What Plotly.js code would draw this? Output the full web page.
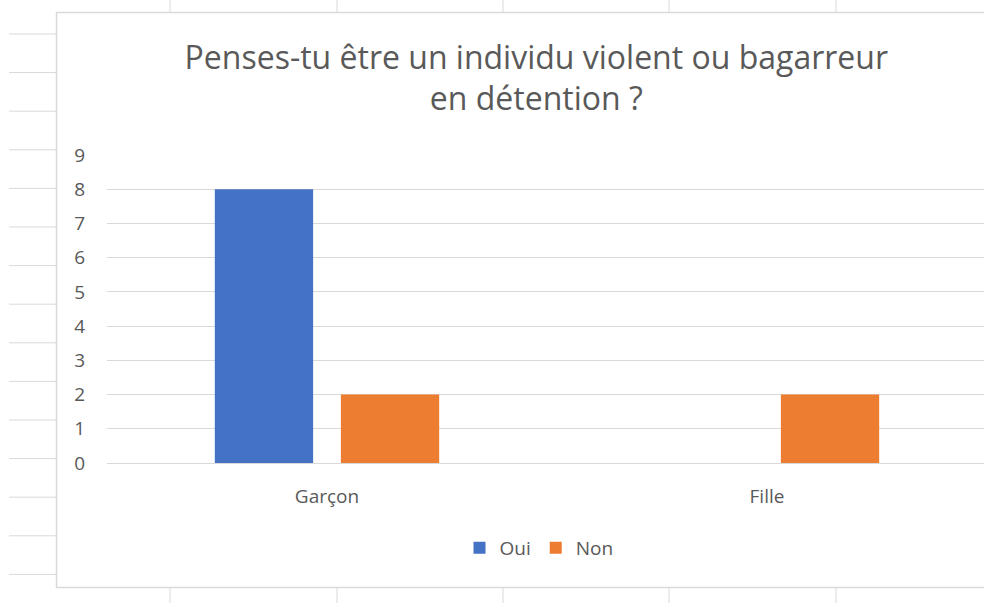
<!DOCTYPE html>
<html>
<head>
<meta charset="utf-8">
<script src="https://cdn.plot.ly/plotly-3.0.1.min.js"></script>
<style>
  html, body { margin: 0; padding: 0; background: #ffffff; overflow: hidden; }
  #chart { width: 984px; height: 603px; }
</style>
</head>
<body>
<div id="chart"></div>
<script>
window.onload = drawChart;

var categories = ["Garçon", "Fille"];
var ouiValues = [8, 0];
var nonValues = [2, 2];
var seriesNames = ["Oui", "Non"];

function drawChart() {

    const FONT = '"Open Sans", "Noto Sans", sans-serif';
    const TEXT_COLOR = '#595959';
    const GRID = '#D9D9D9';

    // plot area in pixels
    const PLOT_L = 107, PLOT_R = 984, PLOT_T = 155, PLOT_B = 463;
    const W = PLOT_R - PLOT_L, H = PLOT_B - PLOT_T;

    function px(x) { return (x - PLOT_L) / W; }
    function py(y) { return (PLOT_B - y) / H; }

    // the spreadsheet cells behind the chart, and the chart frame
    var shapes = [];
    for (var k = 0; k < 15; k++) {
        var yy = 34 + 38.6 * k;
        shapes.push({
            type: 'line', xref: 'paper', yref: 'paper', layer: 'below',
            x0: px(9), x1: px(56), y0: py(yy), y1: py(yy),
            line: { color: GRID, width: 1 }
        });
    }
    [170, 337, 503, 669, 836].forEach(function (xx) {
        shapes.push({
            type: 'line', xref: 'paper', yref: 'paper', layer: 'below',
            x0: px(xx), x1: px(xx), y0: py(0), y1: py(12),
            line: { color: GRID, width: 1 }
        });
        shapes.push({
            type: 'line', xref: 'paper', yref: 'paper', layer: 'below',
            x0: px(xx), x1: px(xx), y0: py(588), y1: py(603),
            line: { color: GRID, width: 1 }
        });
    });
    shapes.push({
        type: 'rect', xref: 'paper', yref: 'paper', layer: 'below',
        x0: px(56.5), x1: px(1000), y0: py(12.5), y1: py(587.5),
        line: { color: GRID, width: 1.5 }, fillcolor: 'rgba(0,0,0,0)'
    });

    var oui = {
        type: 'bar',
        x: categories,
        y: ouiValues,
        name: seriesNames[0],
        marker: { color: '#4472C4' }
    };

    var non = {
        type: 'bar',
        x: categories,
        y: nonValues,
        name: seriesNames[1],
        marker: { color: '#ED7D31' }
    };

    var layout = {
        width: 984,
        height: 603,
        margin: { l: PLOT_L, r: 984 - PLOT_R, t: PLOT_T, b: 603 - PLOT_B, pad: 0 },
        paper_bgcolor: '#ffffff',
        plot_bgcolor: '#ffffff',
        font: { family: FONT, color: TEXT_COLOR, size: 19 },
        title: {
            text: 'Penses-tu être un individu violent ou bagarreur<br>en détention ?',
            font: { family: FONT, size: 32, color: TEXT_COLOR },
            xref: 'container', x: 0.545, xanchor: 'center',
            yref: 'container', y: 0.886, yanchor: 'top'
        },
        barmode: 'group',
        bargap: 0.427,
        bargroupgap: 0.22,
        xaxis: {
            type: 'category',
            range: [-0.5, -0.5 + W / 440],
            showgrid: false,
            showline: true,
            linecolor: GRID,
            linewidth: 1,
            ticks: '',
            ticklabelstandoff: 16,
            tickfont: { family: FONT, size: 19, color: TEXT_COLOR },
            fixedrange: true
        },
        yaxis: {
            range: [0, 9],
            dtick: 1,
            showgrid: true,
            gridcolor: GRID,
            gridwidth: 1,
            zeroline: false,
            showline: false,
            ticks: '',
            ticklabelstandoff: 21,
            tickfont: { family: FONT, size: 19, color: TEXT_COLOR },
            fixedrange: true
        },
        legend: {
            orientation: 'h',
            x: px(539), xanchor: 'center',
            y: py(548), yanchor: 'middle',
            font: { family: FONT, size: 19, color: TEXT_COLOR },
            itemwidth: 30,
            bgcolor: 'rgba(0,0,0,0)'
        },
        shapes: shapes,
        hovermode: false
    };

    Plotly.newPlot('chart', [oui, non], layout, { displayModeBar: false, staticPlot: true });
}
</script>
</body>
</html>
